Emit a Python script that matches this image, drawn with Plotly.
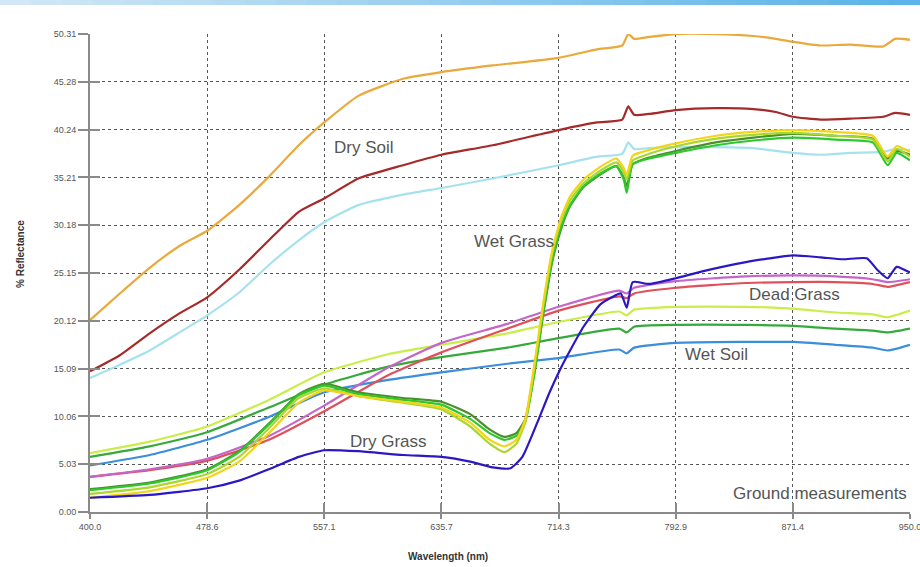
import plotly.graph_objects as go

# ---------------- data ----------------
x_ticks = [400.0, 478.6, 557.1, 635.7, 714.3, 792.9, 871.4, 950.0]
y_ticks = [0.00, 5.03, 10.06, 15.09, 20.12, 25.15, 30.18, 35.21, 40.24, 45.28, 50.31]

wl_soil = [400, 420, 440, 460, 478.6, 500, 520, 540, 557.1, 580, 610, 635.7, 670, 714.3, 740,
           757, 761, 765, 775, 792.9, 820, 845, 860, 871.4, 890, 910, 932, 940, 950]
dry_soil_orange = [20.2, 23.0, 25.7, 28.0, 29.6, 32.3, 35.3, 38.6, 41.0, 43.8, 45.6, 46.3, 47.0, 47.8, 48.7,
                   49.1, 50.3, 49.8, 50.0, 50.3, 50.3, 50.1, 49.8, 49.5, 49.1, 49.2, 49.0, 49.8, 49.7]
dry_soil_red = [14.8, 16.5, 18.8, 20.9, 22.6, 25.5, 28.6, 31.6, 33.0, 35.1, 36.5, 37.6, 38.6, 40.2, 41.0,
                41.3, 42.7, 41.8, 41.9, 42.3, 42.5, 42.4, 42.1, 41.6, 41.3, 41.4, 41.6, 42.0, 41.8]
dry_soil_cyan = [14.1, 15.5, 17.0, 18.9, 20.7, 23.1, 26.0, 28.6, 30.5, 32.3, 33.4, 34.1, 35.1, 36.5, 37.4,
                 37.7, 38.9, 38.2, 38.3, 38.4, 38.4, 38.3, 38.0, 37.8, 37.6, 37.8, 37.9, 38.2, 38.1]

wl_low = [400, 440, 478.6, 520, 557.1, 600, 635.7, 680, 714.3, 755, 760, 765, 792.9, 840, 871.4,
          900, 925, 935, 950]
dead_lime = [6.2, 7.4, 9.0, 11.8, 14.7, 16.6, 17.6, 18.8, 20.0, 21.1, 20.7, 21.3, 21.6, 21.6, 21.4,
             21.0, 20.8, 20.5, 21.2]
dead_green = [5.8, 6.9, 8.4, 11.0, 13.4, 15.3, 16.3, 17.3, 18.3, 19.3, 18.9, 19.5, 19.7, 19.7, 19.6,
              19.3, 19.1, 18.9, 19.3]
wet_soil_blue = [4.9, 6.0, 7.6, 10.0, 12.6, 13.9, 14.7, 15.6, 16.2, 17.1, 16.7, 17.3, 17.8, 17.9, 17.9,
                 17.6, 17.3, 17.0, 17.6]
dead_magenta = [3.7, 4.5, 5.6, 8.0, 11.2, 15.2, 17.8, 19.8, 21.6, 23.3, 23.0, 23.6, 24.3, 24.8, 24.9,
                24.8, 24.5, 24.2, 24.5]
dead_red = [3.7, 4.4, 5.4, 7.6, 10.6, 14.4, 16.8, 19.3, 21.2, 22.7, 22.5, 23.0, 23.6, 24.1, 24.2,
            24.2, 24.0, 23.7, 24.2]

wl_veg = [400, 440, 478.6, 500, 520, 540, 557.1, 580, 610, 635.7, 655, 668, 678, 686, 692, 698, 704,
          710, 716, 722, 731, 742, 753, 758, 760, 764, 775, 792.9, 820, 845, 871.4, 900, 925, 935,
          941, 950]
wet_grass_green = [2.3, 3.0, 4.4, 6.3, 9.2, 12.3, 13.3, 12.4, 11.8, 11.3, 9.8, 8.3, 7.6, 8.0, 9.5, 14.5,
                   21.0, 26.5, 30.0, 32.3, 34.3, 35.6, 36.4, 35.0, 33.6, 36.6, 37.2, 37.8, 38.6, 39.1,
                   39.4, 39.2, 38.9, 36.5, 37.8, 37.0]
wet_grass_dark = [2.4, 3.1, 4.5, 6.4, 9.3, 12.4, 13.5, 12.6, 12.0, 11.6, 10.3, 8.7, 7.9, 8.3, 9.8, 14.6,
                  20.8, 26.3, 29.8, 32.2, 34.2, 35.5, 36.4, 35.2, 34.3, 36.6, 37.3, 38.0, 38.9, 39.4,
                  39.8, 39.6, 39.3, 37.2, 38.0, 37.6]
wet_grass_yellow = [1.5, 2.2, 3.6, 5.3, 8.3, 11.5, 12.8, 12.2, 11.6, 11.0, 9.4, 7.6, 6.9, 7.6, 9.8, 15.5,
                    22.0, 27.5, 31.0, 33.2, 35.0, 36.3, 37.2, 36.2, 35.5, 37.5, 38.1, 38.8, 39.6, 40.0,
                    40.2, 40.0, 39.6, 37.4, 38.5, 37.9]
wet_grass_lime = [1.9, 2.6, 4.0, 5.8, 8.8, 12.0, 13.0, 12.2, 11.5, 10.8, 9.0, 7.2, 6.3, 7.2, 9.5, 15.2,
                  21.7, 27.2, 30.7, 32.8, 34.6, 35.9, 36.8, 35.8, 35.0, 37.0, 37.7, 38.5, 39.3, 39.7,
                  39.9, 39.6, 39.2, 36.9, 38.2, 37.4]

wl_dry = [400, 440, 478.6, 500, 520, 540, 557.1, 580, 610, 635.7, 655, 670, 682, 690, 700, 708, 715,
          722, 731, 742, 750, 756, 760, 764, 775, 792.9, 810, 840, 871.4, 890, 905, 921, 928, 935,
          941, 950]
dry_grass_blue = [1.5, 1.8, 2.5, 3.3, 4.5, 5.8, 6.5, 6.4, 6.0, 5.8, 5.3, 4.7, 4.6, 5.8, 9.4, 12.5, 14.9,
                  17.0, 19.5, 21.8, 22.6, 23.0, 21.5, 24.2, 24.0, 24.6, 25.3, 26.3, 27.0, 26.8, 26.6,
                  26.7, 25.5, 24.6, 25.8, 25.2]

labels = ["Dry Soil", "Wet Grass", "Dead Grass", "Wet Soil", "Dry Grass", "Ground measurements"]
label_x = [584, 684.4, 872.8, 820.5, 600, 889.6]
label_y = [38.4, 28.5, 22.9, 16.6, 7.4, 1.9]

# ---------------- figure ----------------
fig = go.Figure()

series = [
    (wl_soil, dry_soil_cyan, "#a6e2ee"),
    (wl_soil, dry_soil_red, "#a52a2a"),
    (wl_soil, dry_soil_orange, "#eaa93a"),
    (wl_low, wet_soil_blue, "#3a8edb"),
    (wl_low, dead_green, "#35aa3a"),
    (wl_low, dead_lime, "#c8ee4a"),
    (wl_low, dead_red, "#e0505a"),
    (wl_low, dead_magenta, "#c466c8"),
    (wl_veg, wet_grass_dark, "#4b8f2a"),
    (wl_veg, wet_grass_green, "#2cc82c"),
    (wl_veg, wet_grass_lime, "#a8d82a"),
    (wl_veg, wet_grass_yellow, "#f4d41a"),
    (wl_dry, dry_grass_blue, "#2a18c4"),
]
for xs, ys, col in series:
    fig.add_trace(go.Scatter(x=xs, y=ys, mode="lines",
                             line=dict(color=col, width=2.2, shape="spline", smoothing=0.5),
                             showlegend=False, hoverinfo="skip"))

# invisible trace for the overlay axis (inner tick marks)
fig.add_trace(go.Scatter(x=[400, 950], y=[0, 50.31], xaxis="x2", yaxis="y2", mode="markers",
                         marker=dict(opacity=0), showlegend=False, hoverinfo="skip"))

for t, lx, ly in zip(labels, label_x, label_y):
    fig.add_annotation(x=lx, y=ly, text=t, showarrow=False, xref="x", yref="y",
                       xanchor="center", yanchor="middle",
                       font=dict(family="Liberation Sans, Arial", size=17, color="#555555"))

L, R, T, B = 90, 10, 34, 55
PW, PH = 920 - L - R, 567 - T - B


def px(x):
    return (x - L) / PW


def py(y):
    return (567 - B - y) / PH


fig.add_annotation(x=px(448), y=py(556), xref="paper", yref="paper", text="<b>Wavelength (nm)</b>",
                   xanchor="center", yanchor="middle",
                   showarrow=False, font=dict(family="Liberation Sans, Arial", size=10, color="#333"))
fig.add_annotation(x=px(20), y=py(254), xref="paper", yref="paper", text="<b>% Reflectance</b>",
                   xanchor="center", yanchor="middle",
                   textangle=-90, showarrow=False,
                   font=dict(family="Liberation Sans, Arial", size=10, color="#333"))

axis_font = dict(family="Liberation Sans, Arial", size=9, color="#555555")
fig.update_layout(
    width=920, height=567,
    margin=dict(l=L, r=R, t=T, b=B, autoexpand=False),
    paper_bgcolor="white", plot_bgcolor="white",
    xaxis=dict(range=[400, 950], tickvals=x_ticks, ticktext=[f"{v:.1f}" for v in x_ticks],
               showgrid=True, gridcolor="#555555", griddash="dot", gridwidth=1,
               showline=True, linecolor="#8a8a8a", linewidth=2,
               ticks="outside", ticklen=5, tickcolor="#8a8a8a", tickwidth=2,
               tickfont=axis_font, zeroline=False, automargin=False, ticklabeloverflow="allow"),
    yaxis=dict(range=[0, 50.31], tickvals=y_ticks, ticktext=[f"{v:.2f}" for v in y_ticks],
               showgrid=True, gridcolor="#555555", griddash="dot", gridwidth=1,
               showline=True, linecolor="#8a8a8a", linewidth=2,
               ticks="outside", ticklen=10, tickcolor="#8a8a8a", tickwidth=2,
               tickfont=axis_font, zeroline=False, automargin=False, ticklabeloverflow="allow"),
    xaxis2=dict(range=[400, 950], overlaying="x", tickvals=x_ticks, showticklabels=False,
                showgrid=False, zeroline=False, showline=False, automargin=False,
                ticks="inside", ticklen=9, tickcolor="#8a8a8a", tickwidth=2),
    yaxis2=dict(range=[0, 50.31], overlaying="y", tickvals=y_ticks, showticklabels=False,
                showgrid=False, zeroline=False, showline=False, automargin=False,
                ticks="inside", ticklen=10, tickcolor="#8a8a8a", tickwidth=2),
)

# top gradient band
n = 30
for i in range(n):
    f = i / (n - 1)
    r = int(210 + (90 - 210) * f)
    g = int(232 + (180 - 232) * f)
    b = int(246 + (232 - 246) * f)
    fig.add_shape(type="rect", xref="paper", yref="paper",
                  x0=px(i * 920 / n), x1=px((i + 1) * 920 / n + 1),
                  y0=py(0), y1=py(5),
                  fillcolor=f"rgb({r},{g},{b})", line=dict(width=0), layer="above")

fig.write_html("out.html", config={"displayModeBar": False},
               post_script="document.body.style.margin='0';")
